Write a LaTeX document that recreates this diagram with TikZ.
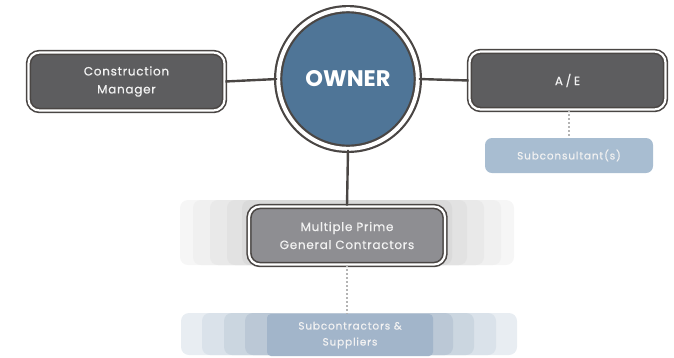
\documentclass[tikz,border=0pt]{standalone}
\usepackage{fontspec}
\setmainfont{Poppins}
\newfontfamily\boxfont[LetterSpace=6,FakeBold=0.4]{Poppins}
\newfontfamily\smallfont[LetterSpace=8,FakeBold=0.3]{Poppins}
\newfontfamily\widefont[LetterSpace=22,FakeBold=0.4]{Poppins}
\usetikzlibrary{shapes.geometric}
\definecolor{ringc}{HTML}{4A4644}
\definecolor{darkfill}{HTML}{5D5D5F}
\definecolor{grayfill}{HTML}{8E8E92}
\definecolor{ownerblue}{HTML}{4F7597}
\definecolor{paleblue}{HTML}{A8BDD1}
\definecolor{subblue}{HTML}{A2B5CA}
\definecolor{dotc}{HTML}{B4B4B4}
\definecolor{txt}{HTML}{F2F2F2}
\begin{document}
\begin{tikzpicture}[x=1pt,y=-1pt,
  framed/.style={draw=ringc, line width=1.6pt, double=white, double distance=2.2pt,
    rounded corners=11pt, minimum width=196pt, minimum height=58pt,
    align=center, text=txt, font=\boxfont\fontsize{12}{18}\selectfont, inner sep=0pt},
  darkbox/.style={framed, fill=darkfill},
  graybox/.style={framed, fill=grayfill},
  ownercircle/.style={circle, draw=ringc, line width=2.2pt, double=white,
    double distance=4pt, fill=ownerblue, minimum size=139.6pt, inner sep=0pt,
    text=white, font=\fontsize{22.5}{22.5}\selectfont\bfseries},
  softbox/.style={rounded corners=7pt, align=center, inner sep=0pt,
    text=txt, font=\smallfont\fontsize{10.5}{16}\selectfont},
  link/.style={draw=ringc, line width=2.4pt},
  dotlink/.style={draw=dotc, line width=1.4pt, dash pattern=on 2pt off 2pt},
  layer/.style={rounded corners=8pt, draw=none}
]
\useasboundingbox (0,0) rectangle (674,357);

% faded stacks behind the contractor boxes
\foreach \hw/\c in {167/F6F6F6, 154/F0F0F0, 137/E9E9E9, 120/E2E2E2, 105/DADADA}{
  \definecolor{lay}{HTML}{\c}
  \fill[layer, lay] (347-\hw,200) rectangle (347+\hw,265);
}
\foreach \hw/\c in {168/E8EDF2, 147/DAE2EA, 125/CBD6E0, 104/BBC8D6}{
  \definecolor{lay}{HTML}{\c}
  \fill[layer, lay] (349-\hw,313) rectangle (349+\hw,355);
}

% main nodes
\node[ownercircle] (owner) at (348,79) {OWNER};
\node[darkbox] (cm) at (126.5,81.5) {Construction\\Manager};
\node[darkbox, font=\widefont\fontsize{12}{18}\selectfont] (ae) at (567.5,80.5) {A/E};
\node[graybox] (mp) at (347,235.5) {Multiple Prime\\General Contractors};
\node[softbox, fill=paleblue, minimum width=168pt, minimum height=35pt]
  (sc) at (569,155.5) {Subconsultant(s)};
\node[softbox, fill=subblue, minimum width=166pt, minimum height=42pt, rounded corners=4pt]
  (subs) at (350,335) {Subcontractors \&\\Suppliers};

% connectors
\draw[link] (cm.east) -- (owner.west);
\draw[link] (owner.east) -- (ae.west);
\draw[link] (owner.south) -- (mp.north);
\draw[dotlink] (ae.south -| sc.north) -- (sc.north);
\draw[dotlink] (mp.south) -- (mp.south |- subs.north);
\end{tikzpicture}
\end{document}
